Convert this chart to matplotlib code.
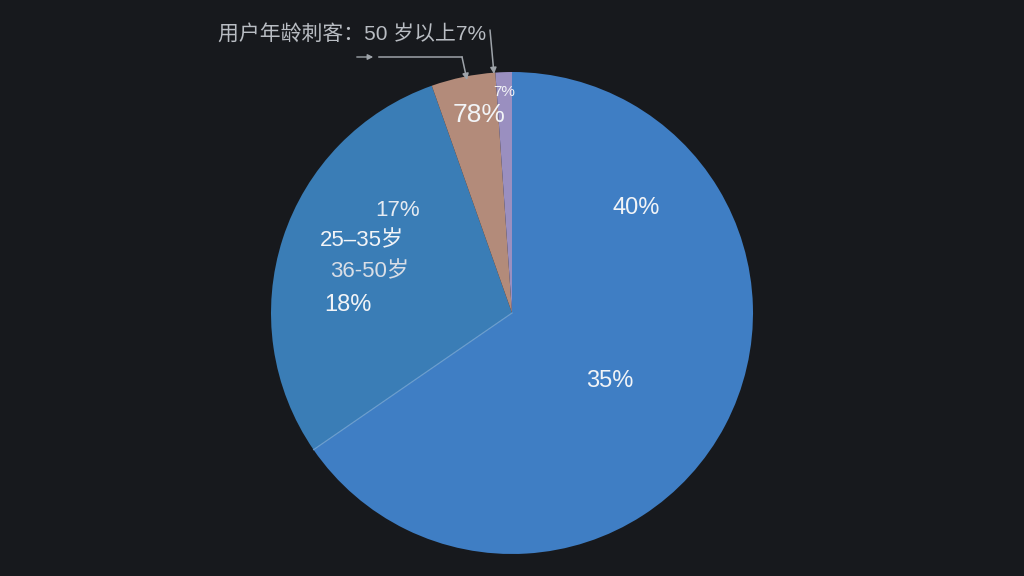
import numpy as np
import matplotlib
matplotlib.use("Agg")
import matplotlib.pyplot as plt

plt.rcParams['font.family'] = ['Liberation Sans', 'Noto Sans CJK SC', 'DejaVu Sans']

# Data (slice shares, clockwise from 12 o'clock)
categories = ["主体", "25-35岁 / 36-50岁", "其他", "50岁以上"]
shares = [65.4, 29.2, 4.3, 1.1]
colors = ["#3f7ec4", "#3a7db6", "#b38b7a", "#9a8fc0"]

# Label texts as drawn in the reference
title_text = "用户年龄刺客：50 岁以上7%"
label_texts = ["40%", "35%", "17%", "25–35岁", "36-50岁", "18%", "78%", "7%"]

BG = "#17191d"
fig = plt.figure(figsize=(10.24, 5.76), dpi=100, facecolor=BG)
ax = fig.add_axes([0, 0, 1, 1])
ax.set_facecolor(BG)

cx, cy, r = 512, 576 - 313, 241
wedges, _ = ax.pie(shares, colors=colors, startangle=90, counterclock=False,
                   center=(cx, cy), radius=r, frame=True,
                   wedgeprops=dict(linewidth=0))
ax.set_xlim(0, 1024)
ax.set_ylim(0, 576)
ax.set_aspect('equal')
ax.axis('off')

# faint separator between the two blue slices
th = np.deg2rad(wedges[0].theta1)
ax.plot([cx, cx + r * np.cos(th)], [cy, cy + r * np.sin(th)],
        color="#7fb0de", lw=0.8, alpha=0.8)

def Y(y):
    return 576 - y

white = "#f2f4f7"
ax.text(636, Y(208), label_texts[0], color=white, fontsize=17, ha='center', va='center')
ax.text(610, Y(381), label_texts[1], color=white, fontsize=17, ha='center', va='center')
ax.text(398, Y(210), label_texts[2], color="#e6ebf2", fontsize=16, ha='center', va='center')
ax.text(362, Y(241), label_texts[3], color=white, fontsize=16, ha='center', va='center')
ax.text(370, Y(272), label_texts[4], color="#d9dee6", fontsize=16, ha='center', va='center')
ax.text(348, Y(305), label_texts[5], color=white, fontsize=17, ha='center', va='center')
ax.text(479, Y(115), label_texts[6], color=white, fontsize=19, ha='center', va='center')
ax.text(504, Y(92), label_texts[7], color=white, fontsize=11, ha='center', va='center')

ax.text(352, Y(34), title_text, color="#b9bdc3", fontsize=15, ha='center', va='center')

gray = "#9ea3a9"
ax.annotate("", xy=(376, Y(57)), xytext=(354, Y(57)),
            arrowprops=dict(arrowstyle="-|>", color=gray, lw=1.0, mutation_scale=8))
ax.plot([379, 462], [Y(57), Y(57)], color=gray, lw=1.1)
ax.annotate("", xy=(467, Y(80)), xytext=(462, Y(57)),
            arrowprops=dict(arrowstyle="-|>", color=gray, lw=1.1, mutation_scale=9,
                            shrinkA=0, shrinkB=0))
ax.annotate("", xy=(494, Y(74)), xytext=(490, Y(30)),
            arrowprops=dict(arrowstyle="-|>", color=gray, lw=1.1, mutation_scale=9,
                            shrinkA=0, shrinkB=0))

fig.savefig("out.png", dpi=100, facecolor=BG)
